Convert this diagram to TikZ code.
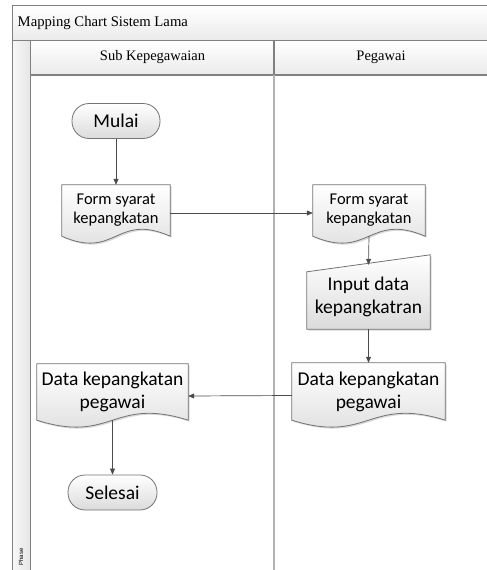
\documentclass[tikz,border=0pt]{standalone}
\usepackage{fontspec}
\setmainfont{Liberation Serif}
\newfontfamily\flowfont{Carlito}
\newfontfamily\phasefont{Liberation Sans}
\usepackage{tikz}
\usetikzlibrary{positioning,arrows.meta,calc,backgrounds}

% document shape drawn round a node
\newcommand{\docbox}[1]{%
  \fill[black!15,transform canvas={shift={(1.5pt,-1.5pt)}}] (#1.south west) -- (#1.north west) -- (#1.north east) -- (#1.south east)
    .. controls ($(#1.south)+(0pt,24pt)$) and ($(#1.south)+(0pt,-24pt)$) .. (#1.south west) -- cycle;
  \path[shapebox] (#1.south west) -- (#1.north west) -- (#1.north east) -- (#1.south east)
    .. controls ($(#1.south)+(0pt,24pt)$) and ($(#1.south)+(0pt,-24pt)$) .. (#1.south west) -- cycle;
}

\begin{document}
\begin{tikzpicture}[
  x=1pt, y=-1pt, >={Triangle[length=6pt,width=5pt]},
  lane/.style={draw=black!50,line width=1.2pt,top color=white,bottom color=black!8},
  shapebox/.style={draw=black!55,line width=0.8pt,top color=white,bottom color=black!14},
  term/.style={draw=black!55,line width=0.8pt,rounded corners=17pt,top color=white,bottom color=black!14,
    minimum width=88pt,minimum height=35pt,inner sep=0pt,font=\flowfont\fontsize{19.5}{23}\selectfont},
  big/.style={align=center,inner sep=0pt,font=\flowfont\fontsize{19.5}{23}\selectfont},
  small/.style={align=center,inner sep=0pt,font=\flowfont\fontsize{16.5}{19}\selectfont},
  head/.style={font=\fontsize{14.5}{17}\selectfont},
  flow/.style={->,draw=black!70,line width=0.7pt}
]
\useasboundingbox (0,0) rectangle (487,570);
\clip (0,0) rectangle (487,570);

% pool and lanes
\path[lane] (12.5,5.5) rectangle (495,40.5);
\node[anchor=west,inner sep=0pt,font=\fontsize{14.7}{17}\selectfont] (title) at (17.5,23) {Mapping Chart Sistem Lama};
\path[draw=black!50,line width=1.2pt,left color=black!3,right color=black!10] (12.5,40.5) rectangle (30.5,580);
\path[lane] (30.5,40.5) rectangle (274,75);
\path[lane] (274,40.5) rectangle (495,75);
\draw[black!30,line width=2pt] (274,75) -- (274,580);
\node[head] (sub) at (152.5,57.5) {Sub Kepegawaian};
\node[head] (peg) at (381,57.5) {Pegawai};
\node[rotate=90,inner sep=0pt,font=\phasefont\fontsize{6}{7}\selectfont] (phase) at (21,557) {Phase};

% flow
\node[term] (mulai) at (116,121) {Mulai};
\node[small,minimum width=108pt,minimum height=51pt] (f1) at (116,210.5) {Form syarat\\kepangkatan};
\node[small,minimum width=112pt,minimum height=51pt] (f2) at (369,210.5) {Form syarat\\kepangkatan};
\node[big,minimum width=123pt,minimum height=64pt] (inp) at (368.5,297) {Input data\\kepangkatran};
\node[big,minimum width=153pt,minimum height=57pt] (d2) at (368.5,391.5) {Data kepangkatan\\pegawai};
\node[big,minimum width=151pt,minimum height=56pt] (d1) at (112.5,392) {Data kepangkatan\\pegawai};
\node[term,minimum width=89pt] (selesai) at (112.5,492.5) {Selesai};

\begin{pgfonlayer}{background}
\docbox{f1}
\docbox{f2}
\docbox{d2}
\docbox{d1}
\fill[black!15,transform canvas={shift={(1.5pt,-1.5pt)}}] (inp.south west) -- ([yshift=-7pt]inp.north west) -- ([yshift=10pt]inp.north east) -- (inp.south east) -- cycle;
\path[shapebox] (inp.south west) -- ([yshift=-7pt]inp.north west) -- ([yshift=10pt]inp.north east) -- (inp.south east) -- cycle;
\end{pgfonlayer}

\draw[flow] (mulai) -- (f1);
\draw[flow] ([yshift=-2.5pt]f1.east) -- ([yshift=-2.5pt]f2.west);
\draw[flow] (f2.south) -- (inp.north);
\draw[flow] (inp) -- (d2);
\draw[flow] ([yshift=-4pt]d2.west) -- ([yshift=-4pt]d1.east);
\draw[flow] (d1.south) -- (selesai);
\end{tikzpicture}
\end{document}
